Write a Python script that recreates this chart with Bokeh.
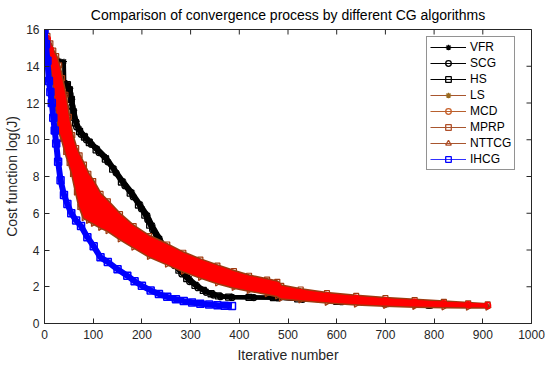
import math
from bokeh.plotting import figure
from bokeh.models import Range1d, FixedTicker, Legend, LegendItem
from bokeh.embed import file_html
from bokeh.resources import INLINE

# ---------------- data ----------------
x_ticks = [0, 100, 200, 300, 400, 500, 600, 700, 800, 900, 1000]
y_ticks = [0, 2, 4, 6, 8, 10, 12, 14, 16]

vfr_iter = [0, 4, 8, 14, 20, 30, 40, 41, 48, 53, 57, 61, 66, 72, 82, 92, 108, 127, 143, 162, 180, 197,
            212, 222, 237, 252, 267, 282, 298, 315, 332, 348, 362, 385, 430, 480, 530, 610, 700, 790]
vfr_val = [16.0, 15.4, 14.9, 14.5, 14.35, 14.3, 14.25, 13.05, 13.0, 12.8, 12.2, 11.6, 11.0, 10.6, 10.25,
           9.95, 9.55, 9.05, 8.45, 7.75, 7.15, 6.5, 5.9, 5.35, 4.65, 3.95, 3.4, 2.9, 2.45, 2.05, 1.78,
           1.6, 1.5, 1.45, 1.43, 1.4, 1.33, 1.2, 1.08, 1.0]

scg_iter = [0, 5, 10, 16, 22, 30, 40, 47, 52, 56, 60, 66, 75, 86, 96, 112, 130, 147, 165, 182, 199,
            212, 222, 237, 252, 267, 282, 298, 315, 332, 347, 362, 385, 430, 480, 530, 610, 700, 790]
scg_val = [16.0, 15.0, 14.2, 13.5, 13.15, 13.05, 13.0, 12.95, 12.5, 11.8, 11.2, 10.7, 10.3, 10.0, 9.75,
           9.3, 8.8, 8.2, 7.5, 6.9, 6.25, 5.65, 5.1, 4.4, 3.7, 3.15, 2.7, 2.28, 1.95, 1.7, 1.55, 1.46,
           1.42, 1.41, 1.39, 1.32, 1.19, 1.07, 0.99]

hs_iter = [0, 5, 10, 16, 22, 30, 40, 47, 51, 55, 59, 64, 72, 82, 92, 106, 125, 140, 158, 176, 193,
           206, 216, 231, 246, 261, 276, 292, 309, 326, 342, 357, 378, 420, 470, 520, 600, 700, 790]
hs_val = [16.0, 15.1, 14.3, 13.6, 13.2, 13.1, 13.05, 13.0, 12.7, 12.2, 11.5, 10.9, 10.45, 10.15, 9.85,
          9.45, 8.95, 8.4, 7.7, 7.1, 6.45, 5.9, 5.35, 4.65, 3.95, 3.35, 2.9, 2.45, 2.08, 1.8, 1.62,
          1.5, 1.44, 1.42, 1.41, 1.34, 1.21, 1.08, 1.0]

red_iter = [0, 6, 12, 18, 24, 30, 36, 43, 50, 57, 65, 72, 81, 90, 100, 115, 130, 155, 183, 215, 252,
            285, 320, 355, 389, 420, 457, 478, 486, 526, 580, 640, 700, 760, 820, 870, 910]
mprp_val = [16.0, 15.65, 15.25, 14.85, 14.55, 14.05, 13.35, 12.45, 11.25, 10.25, 9.55, 9.15, 8.65,
            8.15, 7.75, 7.05, 6.65, 5.95, 5.3, 4.75, 4.3, 3.85, 3.48, 3.15, 2.85, 2.6, 2.39, 2.27,
            2.05, 1.85, 1.65, 1.5, 1.38, 1.28, 1.18, 1.1, 1.04]
nttcg_val = [16.0, 15.15, 14.25, 13.15, 11.75, 10.45, 10.05, 9.35, 8.75, 8.15, 7.15, 6.35, 5.75, 5.6,
             5.45, 5.23, 5.05, 4.6, 4.15, 3.65, 3.23, 2.85, 2.51, 2.2, 1.96, 1.8, 1.62, 1.5, 1.38,
             1.28, 1.15, 1.05, 0.98, 0.93, 0.9, 0.88, 0.88]
ls_val = [16.0, 15.3, 14.5, 13.6, 12.6, 11.6, 11.0, 10.3, 9.6, 9.0, 8.2, 7.5, 6.9, 6.5, 6.15, 5.8,
          5.5, 5.05, 4.55, 4.05, 3.6, 3.2, 2.85, 2.52, 2.25, 2.05, 1.85, 1.72, 1.62, 1.5, 1.36, 1.24,
          1.15, 1.08, 1.02, 0.98, 0.95]
mcd_val = [16.0, 15.5, 14.9, 14.2, 13.6, 12.8, 12.1, 11.2, 10.3, 9.5, 8.8, 8.3, 7.7, 7.3, 7.0, 6.4,
           6.0, 5.45, 4.9, 4.35, 3.9, 3.45, 3.1, 2.8, 2.55, 2.35, 2.15, 2.05, 1.85, 1.68, 1.5, 1.36,
           1.25, 1.16, 1.08, 1.02, 0.98]

ihcg_iter = [0, 3, 6, 9, 12, 15, 18, 21, 24, 28, 33, 40, 47, 55, 65, 75, 88, 101, 115, 130, 150,
             170, 185, 200, 218, 235, 252, 270, 286, 303, 320, 338, 355, 370, 385]
ihcg_val = [16.0, 15.2, 14.3, 13.2, 12.6, 12.0, 11.2, 10.5, 9.8, 8.8, 7.8, 7.0, 6.5, 6.0, 5.6, 5.3,
            4.7, 4.2, 3.6, 3.35, 2.95, 2.6, 2.3, 2.05, 1.8, 1.6, 1.45, 1.32, 1.22, 1.14, 1.08, 1.04,
            1.0, 0.97, 0.95]

labels = ["VFR", "SCG", "HS", "LS", "MCD", "MPRP", "NTTCG", "IHCG"]

# ---------------- figure ----------------
FONT = "Liberation Sans"
AX = "#262626"

p = figure(width=550, height=366, output_backend="svg", toolbar_location=None,
           x_range=Range1d(x_ticks[0], x_ticks[-1]), y_range=Range1d(y_ticks[0], y_ticks[-1]),
           min_border_left=44, min_border_right=19, min_border_top=29, min_border_bottom=43,
           background_fill_color="white", border_fill_color="white")

p.title.text = "Comparison of convergence process by different CG algorithms"
p.title.align = "center"
p.title.vertical_align = "top"
p.title.text_font = FONT
p.title.text_font_size = "14px"
p.title.text_font_style = "normal"
p.title.text_color = "black"
p.title.standoff = 10

p.grid.visible = False
p.outline_line_color = AX
p.outline_line_width = 1

xax = p.below[0]
yax = p.left[0]
xax.ticker = FixedTicker(ticks=x_ticks)
yax.ticker = FixedTicker(ticks=y_ticks)
for ax in [xax, yax]:
    ax.major_tick_in = 5
    ax.major_tick_out = 0
    ax.minor_tick_line_color = None
    ax.axis_line_color = AX
    ax.major_tick_line_color = AX
    ax.major_label_text_font = FONT
    ax.major_label_text_font_size = "12px"
    ax.major_label_text_color = AX
    ax.axis_label_text_font = FONT
    ax.axis_label_text_font_size = "14px"
    ax.axis_label_text_font_style = "normal"
    ax.axis_label_text_color = AX
xax.major_label_standoff = 6
xax.axis_label_standoff = 5
yax.major_label_standoff = 5
yax.axis_label_standoff = 3
xax.axis_label = "Iterative number"
yax.axis_label = "Cost function log(J)"

# box ticks on the top and right edges (inward, clipped to the frame)
p.scatter(x=x_ticks, y=[y_ticks[-1]] * len(x_ticks), marker="dash", angle=math.pi / 2, size=10,
          line_color=AX, line_width=1)
p.scatter(x=[x_ticks[-1]] * len(y_ticks), y=y_ticks, marker="dash", size=10,
          line_color=AX, line_width=1)

# ---------------- black series ----------------
for it, v, mk in [(vfr_iter, vfr_val, "asterisk"), (scg_iter, scg_val, "circle"), (hs_iter, hs_val, "square")]:
    p.line(it, v, line_color="black", line_width=4)
    p.scatter(it, v, marker=mk, size=6, line_color="black", fill_color=None, line_width=1.3)

# ---------------- red / brown family ----------------
BROWN = "#9E3A10"
p.line(red_iter, mprp_val, line_color=BROWN, line_width=3)
p.scatter(red_iter, mprp_val, marker="square", size=5, line_color=BROWN, fill_color=None, line_width=1.2)
p.line(red_iter, nttcg_val, line_color=BROWN, line_width=3)
p.scatter(red_iter, nttcg_val, marker="triangle", angle=-math.pi / 2, size=6, line_color=BROWN,
          fill_color=None, line_width=1.2)
p.line(red_iter, ls_val, line_color="#8B3A12", line_width=3)
p.scatter(red_iter, ls_val, marker="asterisk", size=5, line_color="#8B3A12", line_width=1.2)
p.varea(x=red_iter, y1=nttcg_val, y2=mprp_val, fill_color="#FF0000")
p.line(red_iter, mcd_val, line_color="#FF0000", line_width=4)
p.scatter(red_iter, mcd_val, marker="circle", size=6, line_color="#FF0000", fill_color=None, line_width=1.3)

# ---------------- blue series ----------------
p.line(ihcg_iter, ihcg_val, line_color="#0000FF", line_width=6)
p.scatter(ihcg_iter, ihcg_val, marker="square", size=7, line_color="#0000FF", fill_color=None, line_width=1.5)

# ---------------- legend (legend-only glyphs, placed outside the visible ranges) ----------------
leg_style = [
    ("black", "black", "asterisk", 0),
    ("black", "black", "circle", 0),
    ("black", "black", "square", 0),
    ("#A8552E", "#9A6A20", "asterisk", 0),
    ("#B8602E", "#C8602A", "circle", 0),
    ("#A8552E", "#B0502A", "square", 0),
    ("#A8552E", "#B0502A", "triangle", -math.pi / 2),
    ("#3030FF", "#0000FF", "square", 0),
]
off_x = [-5000, -4000]
off_y = [-5000, -5000]
items = []
for lab, (lc, mc, mk, ang) in zip(labels, leg_style):
    lr = p.line(off_x, off_y, line_color=lc, line_width=1)
    sr = p.scatter(off_x[:1], off_y[:1], marker=mk, size=8, angle=ang, line_color=mc,
                   fill_color=None, line_width=1.3)
    items.append(LegendItem(label=lab, renderers=[lr, sr]))

legend = Legend(items=items, location=(382, 153))
legend.border_line_color = AX
legend.border_line_width = 1
legend.background_fill_color = "white"
legend.background_fill_alpha = 1
legend.padding = 3
legend.spacing = 2
legend.margin = 0
legend.glyph_width = 36
legend.glyph_height = 14
legend.label_height = 14
legend.label_standoff = 4
legend.label_text_font = FONT
legend.label_text_font_size = "12px"
legend.label_text_color = "black"
p.add_layout(legend)

open("out.html", "w").write(file_html(p, INLINE))
